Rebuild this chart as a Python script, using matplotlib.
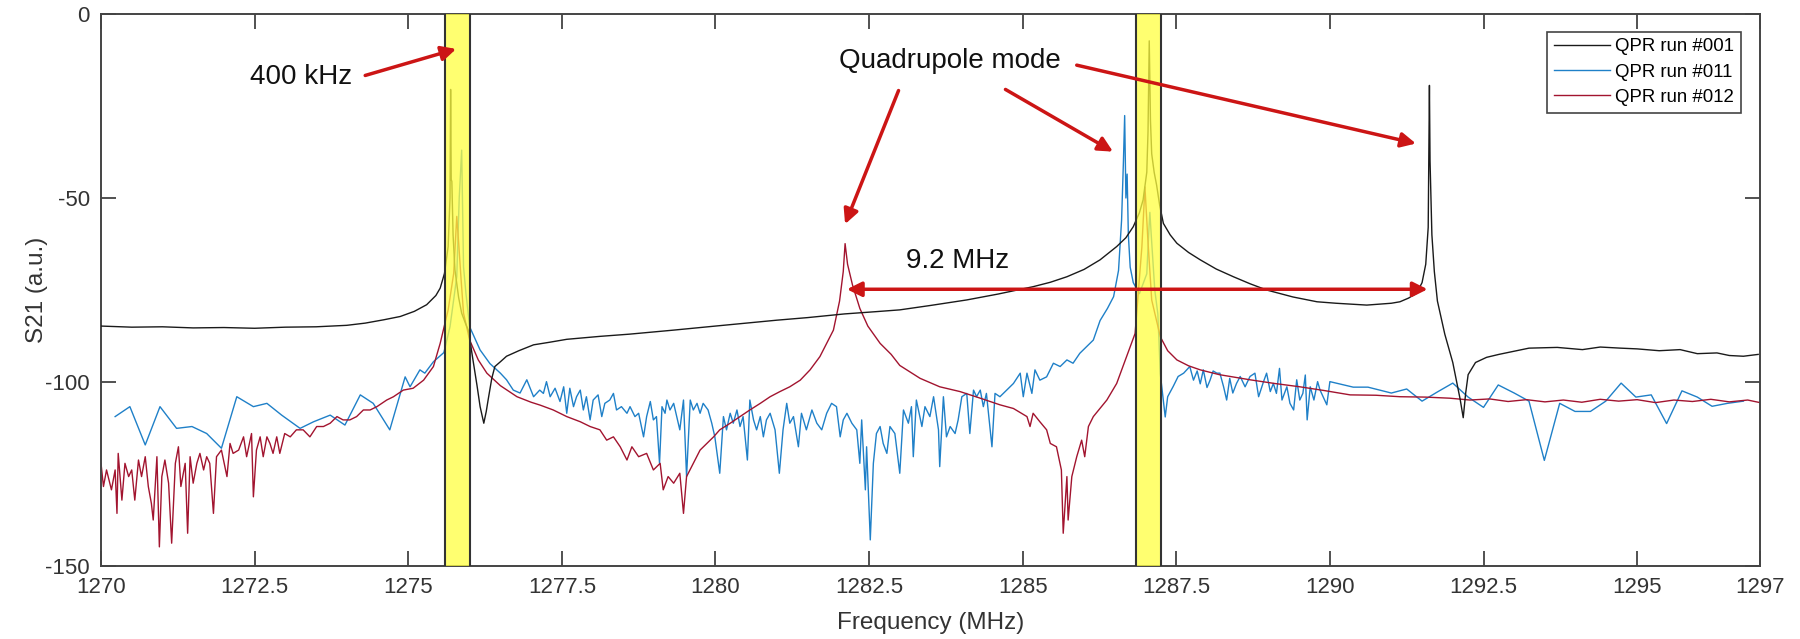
import matplotlib
matplotlib.use("Agg")
import matplotlib.pyplot as plt

plt.rcParams['font.family'] = ['Liberation Sans', 'DejaVu Sans']
plt.rcParams['axes.unicode_minus'] = False

# QPR run #001 (black)
f_001 = [1270.0, 1270.5, 1271.0, 1271.5, 1272.0, 1272.5, 1273.0, 1273.5, 1274.0, 1274.3,
         1274.6, 1274.87, 1275.1, 1275.3, 1275.45, 1275.52, 1275.59, 1275.65, 1275.68, 1275.69,
         1275.70, 1275.71, 1275.73, 1275.76, 1275.82, 1275.87, 1275.93, 1275.98, 1276.05, 1276.12,
         1276.17, 1276.23, 1276.27, 1276.30, 1276.36, 1276.41, 1276.5, 1276.6, 1276.8, 1277.04,
         1277.3, 1277.58, 1278.12, 1278.6, 1279.32, 1280.0, 1280.5, 1281.0, 1281.5, 1282.1,
         1282.6, 1283.0, 1283.5, 1284.09, 1284.6, 1285.17, 1285.45, 1285.72, 1286.0, 1286.26,
         1286.53, 1286.68, 1286.8, 1286.9, 1286.96, 1287.02, 1287.04, 1287.06, 1287.08, 1287.1,
         1287.14, 1287.18, 1287.23, 1287.29, 1287.4, 1287.51, 1287.7, 1287.89, 1288.15, 1288.43,
         1288.7, 1288.97, 1289.4, 1289.79, 1290.1, 1290.6, 1291.0, 1291.14, 1291.28, 1291.41,
         1291.5, 1291.56, 1291.6, 1291.62, 1291.63, 1291.66, 1291.7, 1291.75, 1291.87, 1292.0,
         1292.12, 1292.17, 1292.21, 1292.25, 1292.37, 1292.55, 1292.75, 1293.24, 1293.7, 1294.11,
         1294.4, 1294.73, 1295.0, 1295.36, 1295.7, 1295.98, 1296.3, 1296.5, 1296.73, 1296.97]
s_001 = [-84.8, -85.1, -85.0, -85.3, -85.2, -85.4, -85.1, -85.0, -84.6, -84.0,
         -83.1, -82.2, -80.8, -79.0, -76.5, -74.5, -70.5, -63.2, -50.0, -20.5,
         -45.0, -45.5, -60.0, -69.5, -77.0, -81.3, -84.0, -86.0, -93.6, -101.0,
         -106.7, -111.2, -108.0, -104.9, -99.0, -95.8, -94.5, -93.0, -91.5, -89.9,
         -89.2, -88.4, -87.6, -87.0, -85.9, -84.8, -84.0, -83.2, -82.5, -81.5,
         -80.9, -80.4, -79.2, -77.7, -76.1, -74.1, -72.9, -71.4, -69.4, -66.8,
         -63.2, -60.8, -57.8, -54.0, -50.5, -43.0, -32.0, -7.3, -29.0, -38.0,
         -43.0, -46.5, -52.0, -56.9, -60.0, -62.3, -64.8, -66.8, -69.3, -71.4,
         -73.3, -75.0, -76.9, -78.2, -78.6, -79.1, -78.6, -78.2, -77.2, -75.9,
         -73.0, -68.0, -58.0, -19.4, -40.0, -60.0, -70.0, -78.0, -87.0, -94.7,
         -104.7, -109.7, -103.0, -98.0, -94.7, -93.3, -92.5, -90.8, -90.6, -91.2,
         -90.5, -90.8, -91.0, -91.5, -91.2, -92.3, -92.1, -92.8, -93.0, -92.5]

# QPR run #011 (blue)
f_011 = [1270.23, 1270.47, 1270.72, 1270.96, 1271.23, 1271.48, 1271.72, 1271.96, 1272.21, 1272.48,
         1272.7, 1272.94, 1273.24, 1273.46, 1273.73, 1273.97, 1274.22, 1274.43, 1274.7, 1274.95,
         1275.03, 1275.19, 1275.27, 1275.41, 1275.58, 1275.68, 1275.79, 1275.83, 1275.87, 1275.9,
         1275.94, 1276.0, 1276.17, 1276.33, 1276.5, 1276.6, 1276.71, 1276.82, 1276.93, 1277.04,
         1277.14, 1277.2, 1277.25, 1277.31, 1277.39, 1277.47, 1277.53, 1277.58, 1277.63, 1277.69,
         1277.74, 1277.8, 1277.85, 1277.9, 1277.96, 1278.01, 1278.09, 1278.15, 1278.2, 1278.28,
         1278.34, 1278.39, 1278.47, 1278.56, 1278.61, 1278.69, 1278.75, 1278.83, 1278.88, 1278.94,
         1278.99, 1279.04, 1279.09, 1279.13, 1279.18, 1279.21, 1279.26, 1279.32, 1279.37, 1279.42,
         1279.48, 1279.53, 1279.59, 1279.64, 1279.7, 1279.75, 1279.8, 1279.88, 1279.94, 1279.99,
         1280.07, 1280.13, 1280.18, 1280.24, 1280.29, 1280.35, 1280.4, 1280.45, 1280.52, 1280.56,
         1280.62, 1280.67, 1280.73, 1280.78, 1280.83, 1280.89, 1280.97, 1281.04, 1281.1, 1281.16,
         1281.21, 1281.27, 1281.35, 1281.4, 1281.48, 1281.57, 1281.65, 1281.73, 1281.81, 1281.89,
         1281.97, 1282.03, 1282.08, 1282.14, 1282.22, 1282.3, 1282.35, 1282.38, 1282.44, 1282.46,
         1282.52, 1282.57, 1282.62, 1282.68, 1282.73, 1282.79, 1282.84, 1282.92, 1283.0, 1283.06,
         1283.14, 1283.19, 1283.22, 1283.27, 1283.36, 1283.41, 1283.49, 1283.55, 1283.63, 1283.65,
         1283.71, 1283.76, 1283.82, 1283.9, 1283.95, 1284.01, 1284.09, 1284.14, 1284.2, 1284.25,
         1284.31, 1284.36, 1284.41, 1284.5, 1284.55, 1284.63, 1284.74, 1284.85, 1284.96, 1285.01,
         1285.07, 1285.15, 1285.2, 1285.28, 1285.39, 1285.5, 1285.61, 1285.72, 1285.82, 1285.93,
         1286.04, 1286.15, 1286.26, 1286.38, 1286.48, 1286.56, 1286.61, 1286.64, 1286.66, 1286.68,
         1286.7, 1286.72, 1286.75, 1286.8, 1286.9, 1287.02, 1287.05, 1287.07, 1287.1, 1287.15,
         1287.2, 1287.24, 1287.32, 1287.36, 1287.45, 1287.53, 1287.62, 1287.72, 1287.78, 1287.84,
         1287.89, 1287.94, 1288.0, 1288.05, 1288.1, 1288.16, 1288.21, 1288.27, 1288.32, 1288.37,
         1288.42, 1288.48, 1288.54, 1288.62, 1288.7, 1288.78, 1288.84, 1288.92, 1288.97, 1289.03,
         1289.08, 1289.13, 1289.18, 1289.22, 1289.3, 1289.35, 1289.41, 1289.46, 1289.51, 1289.56,
         1289.6, 1289.63, 1289.68, 1289.74, 1289.8, 1289.84, 1289.89, 1289.95, 1290.0, 1290.38,
         1290.62, 1291.0, 1291.25, 1291.5, 1291.75, 1292.0, 1292.25, 1292.5, 1292.74, 1293.0,
         1293.24, 1293.49, 1293.74, 1293.99, 1294.24, 1294.49, 1294.74, 1294.98, 1295.23, 1295.48,
         1295.73, 1295.98, 1296.22, 1296.47, 1296.73]
s_011 = [-109.4, -106.7, -117.1, -106.7, -112.6, -112.1, -114.0, -118.0, -104.0, -106.7,
         -105.8, -109.0, -112.6, -110.8, -109.0, -111.7, -103.5, -105.8, -113.0, -98.6,
         -101.3, -96.7, -97.6, -94.5, -92.0, -85.0, -71.4, -50.0, -37.0, -68.7,
         -76.0, -85.0, -91.3, -95.0, -97.6, -99.4, -102.2, -103.0, -99.4, -104.0,
         -102.2, -103.1, -99.9, -104.0, -101.7, -105.3, -101.3, -108.5, -101.7, -106.7,
         -104.0, -102.2, -107.6, -104.0, -110.3, -104.9, -103.5, -109.4, -105.8, -104.9,
         -103.1, -107.6, -106.7, -108.5, -106.7, -109.4, -108.5, -114.9, -109.4, -105.3,
         -110.3, -109.4, -122.1, -106.7, -108.5, -104.9, -107.6, -105.8, -109.4, -113.0,
         -104.9, -125.7, -104.9, -107.6, -105.8, -108.5, -105.8, -107.6, -111.2, -114.9,
         -124.8, -109.4, -113.0, -108.5, -111.2, -107.6, -112.1, -109.4, -121.2, -104.9,
         -110.3, -113.0, -109.4, -114.9, -110.3, -108.5, -113.0, -124.8, -113.0, -105.8,
         -111.2, -109.4, -117.6, -108.5, -113.0, -107.6, -111.2, -113.0, -108.5, -105.8,
         -106.7, -114.9, -110.3, -108.5, -111.2, -113.0, -122.1, -110.3, -129.3, -117.6,
         -142.9, -122.1, -114.0, -112.1, -116.7, -119.4, -112.1, -114.0, -124.8, -107.6,
         -111.2, -106.7, -120.3, -104.9, -112.1, -106.7, -109.4, -104.0, -113.0, -123.0,
         -104.0, -114.9, -112.1, -114.0, -110.3, -104.0, -103.1, -114.0, -102.2, -104.0,
         -102.2, -106.7, -103.1, -117.6, -103.1, -104.0, -102.2, -100.4, -97.6, -104.0,
         -97.6, -103.1, -96.7, -99.5, -98.6, -94.9, -95.8, -94.0, -94.9, -92.2,
         -90.4, -88.6, -83.3, -80.0, -76.8, -69.7, -56.0, -40.0, -27.6, -50.0,
         -43.5, -60.0, -68.8, -73.0, -76.0, -70.6, -60.0, -53.9, -62.0, -75.0,
         -81.5, -97.8, -109.5, -104.0, -101.2, -98.5, -97.6, -95.8, -99.5, -97.0,
         -100.5, -96.7, -101.5, -99.5, -97.0, -97.6, -97.6, -101.3, -104.9, -99.0,
         -103.0, -100.4, -98.5, -101.3, -98.5, -97.6, -104.0, -99.9, -97.6, -102.6,
         -100.4, -103.1, -96.3, -104.9, -101.3, -105.8, -107.6, -99.4, -104.9, -103.1,
         -98.1, -110.3, -101.3, -104.9, -99.9, -102.2, -104.0, -106.2, -99.9, -101.4,
         -101.4, -103.0, -101.9, -105.2, -102.7, -100.3, -104.1, -106.9, -100.8, -103.0,
         -105.2, -121.3, -105.8, -108.0, -108.0, -105.2, -100.3, -104.1, -103.5, -111.3,
         -102.4, -104.1, -106.6, -105.8, -105.2]

# QPR run #012 (red)
f_012 = [1270.0, 1270.04, 1270.09, 1270.17, 1270.23, 1270.26, 1270.28, 1270.34, 1270.39, 1270.45,
         1270.5, 1270.55, 1270.61, 1270.66, 1270.72, 1270.77, 1270.82, 1270.85, 1270.91, 1270.95,
         1270.99, 1271.04, 1271.1, 1271.15, 1271.21, 1271.26, 1271.3, 1271.37, 1271.41, 1271.45,
         1271.5, 1271.56, 1271.61, 1271.67, 1271.72, 1271.77, 1271.83, 1271.88, 1271.96, 1272.05,
         1272.1, 1272.15, 1272.24, 1272.32, 1272.37, 1272.45, 1272.48, 1272.53, 1272.59, 1272.64,
         1272.7, 1272.75, 1272.8, 1272.86, 1272.91, 1272.99, 1273.08, 1273.18, 1273.29, 1273.4,
         1273.51, 1273.62, 1273.73, 1273.84, 1273.94, 1274.05, 1274.16, 1274.27, 1274.38, 1274.49,
         1274.65, 1274.76, 1274.92, 1275.08, 1275.25, 1275.41, 1275.52, 1275.65, 1275.74, 1275.79,
         1275.82, 1275.86, 1275.9, 1276.0, 1276.14, 1276.28, 1276.5, 1276.77, 1277.0, 1277.15,
         1277.36, 1277.58, 1277.8, 1277.96, 1278.12, 1278.23, 1278.34, 1278.45, 1278.56, 1278.64,
         1278.75, 1278.88, 1278.99, 1279.1, 1279.15, 1279.23, 1279.32, 1279.42, 1279.48, 1279.53,
         1279.64, 1279.75, 1279.86, 1279.97, 1280.07, 1280.24, 1280.4, 1280.56, 1280.73, 1280.89,
         1281.05, 1281.21, 1281.38, 1281.54, 1281.7, 1281.81, 1281.92, 1282.02, 1282.08, 1282.11,
         1282.15, 1282.23, 1282.35, 1282.48, 1282.68, 1282.86, 1283.0, 1283.33, 1283.65, 1283.98,
         1284.31, 1284.63, 1284.85, 1285.07, 1285.12, 1285.17, 1285.28, 1285.39, 1285.45, 1285.55,
         1285.63, 1285.66, 1285.72, 1285.74, 1285.8, 1285.88, 1285.96, 1286.01, 1286.07, 1286.15,
         1286.37, 1286.53, 1286.69, 1286.83, 1286.94, 1286.99, 1287.04, 1287.1, 1287.24, 1287.36,
         1287.51, 1287.7, 1287.89, 1288.2, 1288.7, 1289.1, 1289.51, 1289.9, 1290.33, 1290.75,
         1291.14, 1291.55, 1291.95, 1292.28, 1292.6, 1292.9, 1293.2, 1293.5, 1293.8, 1294.1,
         1294.4, 1294.7, 1295.0, 1295.3, 1295.6, 1295.9, 1296.2, 1296.5, 1296.8, 1297.0]
s_012 = [-122.1, -128.4, -123.9, -129.3, -123.9, -135.7, -119.4, -132.1, -122.1, -125.7,
         -123.9, -132.1, -121.2, -125.7, -120.3, -128.4, -133.0, -137.5, -120.3, -144.8,
         -125.7, -121.2, -127.5, -143.8, -122.1, -117.6, -128.4, -122.1, -141.1, -120.3,
         -127.5, -122.1, -119.4, -123.9, -120.3, -122.1, -135.7, -120.3, -118.5, -125.7,
         -116.7, -119.4, -118.5, -114.9, -120.3, -114.0, -131.2, -118.5, -114.9, -120.3,
         -114.9, -116.7, -119.4, -114.9, -119.4, -114.0, -114.9, -113.0, -113.0, -114.9,
         -112.1, -112.1, -111.2, -109.4, -110.3, -110.3, -109.4, -107.6, -107.6, -106.7,
         -104.9, -104.0, -102.2, -101.7, -99.5, -95.8, -89.5, -80.4, -70.5, -55.0,
         -62.0, -72.0, -81.3, -88.6, -94.0, -97.6, -101.0, -104.0, -105.5, -106.3,
         -107.6, -109.4, -110.8, -112.1, -113.0, -115.8, -114.9, -117.6, -121.2, -117.6,
         -120.3, -119.4, -123.9, -122.1, -129.3, -125.7, -127.5, -124.8, -135.7, -125.7,
         -122.1, -118.5, -116.7, -114.9, -113.0, -111.2, -109.4, -107.6, -105.8, -104.0,
         -102.6, -101.3, -99.5, -96.7, -93.1, -89.5, -85.9, -78.0, -70.0, -62.4,
         -68.0, -73.6, -80.0, -84.8, -89.5, -92.5, -95.5, -99.0, -101.3, -102.6,
         -104.4, -106.2, -107.2, -109.4, -112.1, -108.5, -110.8, -113.0, -116.7, -117.6,
         -123.9, -141.1, -125.7, -137.5, -125.7, -120.3, -115.8, -120.3, -112.1, -109.4,
         -104.9, -100.4, -93.1, -86.8, -63.3, -47.0, -62.0, -77.7, -87.7, -91.5,
         -94.0, -95.6, -96.7, -98.0, -99.4, -100.4, -101.3, -102.3, -103.5, -103.6,
         -104.0, -104.1, -104.4, -104.9, -104.6, -105.3, -104.8, -105.4, -104.9, -105.5,
         -104.7, -105.2, -104.8, -105.6, -104.9, -105.3, -104.7, -105.4, -104.9, -105.6]

series_labels = ['QPR run #001', 'QPR run #011', 'QPR run #012']
x_ticks = [1270, 1272.5, 1275, 1277.5, 1280, 1282.5, 1285, 1287.5, 1290, 1292.5, 1295, 1297]
x_ticklabels = ['1270', '1272.5', '1275', '1277.5', '1280', '1282.5', '1285', '1287.5',
                '1290', '1292.5', '1295', '1297']
y_ticks = [-150, -100, -50, 0]
bands = [(1275.6, 1276.0), (1286.85, 1287.25)]

fig = plt.figure(figsize=(18, 6.39), dpi=100)
ax = fig.add_axes([101 / 1800, 1 - 566 / 639, 1659 / 1800, 552 / 639])

ax.plot(f_001, s_001, color='#1a1a1a', lw=1.0, label=series_labels[0], zorder=3)
ax.plot(f_011, s_011, color='#1f80c8', lw=1.0, label=series_labels[1], zorder=2)
ax.plot(f_012, s_012, color='#A2142F', lw=1.0, label=series_labels[2], zorder=2.5)

# yellow 400 kHz bands, semi-transparent on top of the traces
for lo, hi in bands:
    ax.axvspan(lo, hi, facecolor='#ffff40', alpha=0.75, edgecolor='none', zorder=4)
    ax.axvline(lo, color='#333333', lw=1.5, zorder=4)
    ax.axvline(hi, color='#333333', lw=1.5, zorder=4)

red = '#cc1515'
arr = dict(arrowstyle='-|>', color=red, lw=2.5, mutation_scale=22, shrinkA=0, shrinkB=0)

ax.text(1273.26, -17.1, '400 kHz', fontsize=20, ha='center', va='center', color='#111111', zorder=6)
ax.annotate('', xy=(1275.78, -9.5), xytext=(1274.30, -16.7), arrowprops=arr, zorder=6)

ax.text(1283.82, -12.8, 'Quadrupole mode', fontsize=20, ha='center', va='center', color='#111111', zorder=6)
ax.annotate('', xy=(1282.11, -57.1), xytext=(1282.98, -20.8), arrowprops=arr, zorder=6)
ax.annotate('', xy=(1286.47, -37.4), xytext=(1284.72, -20.5), arrowprops=arr, zorder=6)
ax.annotate('', xy=(1291.40, -35.2), xytext=(1285.88, -13.9), arrowprops=arr, zorder=6)

ax.text(1283.94, -67.1, '9.2 MHz', fontsize=20, ha='center', va='center', color='#111111', zorder=6)
arr2 = dict(arr, arrowstyle='<|-|>')
ax.annotate('', xy=(1291.59, -74.8), xytext=(1282.14, -74.8), arrowprops=arr2, zorder=6)

ax.set_xlim(1270, 1297)
ax.set_ylim(-150, 0)
ax.set_xticks(x_ticks)
ax.set_xticklabels(x_ticklabels)
ax.set_yticks(y_ticks)
ax.tick_params(direction='in', length=11, width=1.2, top=True, right=True,
               labelsize=16, colors='#333333', pad=8)
for sp in ax.spines.values():
    sp.set_color('#444444')
    sp.set_linewidth(1.4)
ax.set_xlabel('Frequency (MHz)', fontsize=17.5, color='#333333', labelpad=10)
ax.set_ylabel('S21 (a.u.)', fontsize=17.5, color='#333333', labelpad=-2)

leg = ax.legend(loc='upper right', bbox_to_anchor=(0.9884, 0.968), borderaxespad=0,
                fontsize=13.4, handlelength=3.0, handletextpad=0.3, labelspacing=0.45,
                fancybox=False, framealpha=1, edgecolor='#444444', borderpad=0.35)
leg.get_frame().set_linewidth(1.2)
leg.set_zorder(7)

fig.savefig('out.png', dpi=100)
